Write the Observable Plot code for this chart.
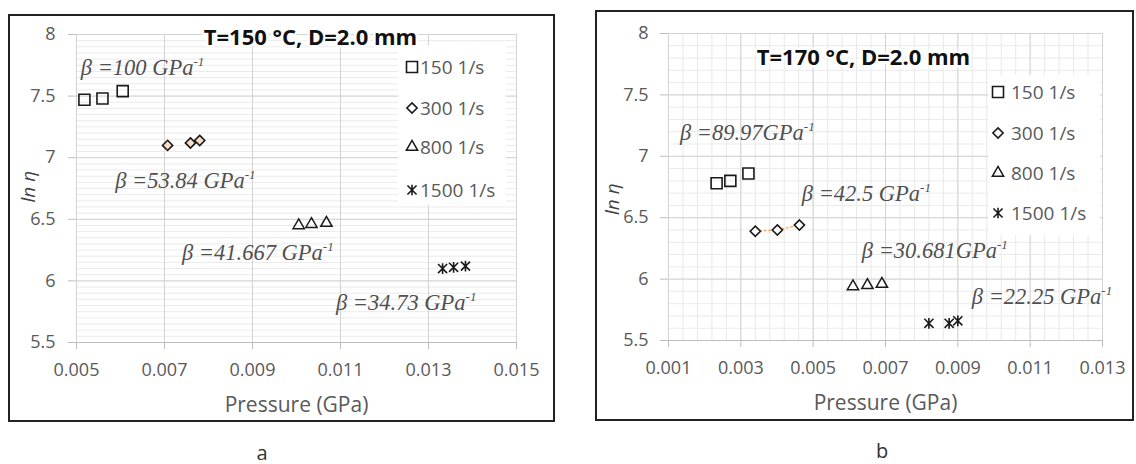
<!DOCTYPE html>
<html>
<head>
<meta charset="utf-8">
<script src="https://cdn.jsdelivr.net/npm/d3@7"></script>
<script src="https://cdn.jsdelivr.net/npm/@observablehq/plot@0.6"></script>
<style>
  html, body { margin: 0; padding: 0; background: #fff; width: 1136px; height: 464px; overflow: hidden; }
  .panel { position: absolute; }
  .panel svg { display: block; background: transparent; }
  .frame { position: absolute; border: 2px solid #222; box-sizing: border-box; pointer-events: none; }
  .cap { position: absolute; font-family: "Open Sans"; font-size: 20px; color: #333; transform: translate(-50%, -50%); }
</style>
</head>
<body>
<div id="root"></div>
<script>
// Shear-rate series shown in both panels
const series = ["150 1/s", "300 1/s", "800 1/s", "1500 1/s"];

// Panel a: T = 150 °C, D = 2.0 mm  (pressure in GPa, ln η)
const pA150 = [0.00518, 0.00559, 0.00605];
const lnA150 = [7.47, 7.48, 7.54];
const pA300 = [0.00707, 0.00759, 0.00780];
const lnA300 = [7.10, 7.12, 7.14];
const pA800 = [0.01005, 0.01034, 0.01068];
const lnA800 = [6.45, 6.46, 6.47];
const pA1500 = [0.01332, 0.01357, 0.01384];
const lnA1500 = [6.10, 6.11, 6.12];

// Panel b: T = 170 °C, D = 2.0 mm
const pB150 = [0.00233, 0.00271, 0.00321];
const lnB150 = [6.78, 6.80, 6.86];
const pB300 = [0.00340, 0.00401, 0.00462];
const lnB300 = [6.39, 6.40, 6.44];
const pB800 = [0.00610, 0.00650, 0.00690];
const lnB800 = [5.94, 5.95, 5.96];
const pB1500 = [0.00820, 0.00876, 0.00900];
const lnB1500 = [5.64, 5.64, 5.66];

// Pressure-coefficient labels and the point where each label starts
const betaTextA = ["β =100 GPa", "β =53.84 GPa", "β =41.667 GPa", "β =34.73 GPa"];
const betaPosXA = [0.00511, 0.00589, 0.00741, 0.01091];
const betaPosYA = [7.73, 6.81, 6.23, 5.82];
const betaTextB = ["β =89.97GPa", "β =42.5 GPa", "β =30.681GPa", "β =22.25 GPa"];
const betaPosXB = [0.00133, 0.00470, 0.00636, 0.00940];
const betaPosYB = [7.19, 6.70, 6.23, 5.86];

// Axis ticks
const xTicksA = [0.005, 0.007, 0.009, 0.011, 0.013, 0.015];
const xTicksB = [0.001, 0.003, 0.005, 0.007, 0.009, 0.011, 0.013];
const yTicks = [5.5, 6, 6.5, 7, 7.5, 8];
const yTickLabels = ["5.5", "6", "6.5", "7", "7.5", "8"];

const titleA = "T=150 °C, D=2.0 mm";
const titleB = "T=170 °C, D=2.0 mm";

// Star marker: a vertical stroke crossed by an X
const starSymbol = {
  draw(context, size) {
    const r = Math.sqrt(size) * 0.56;
    const d = r * 0.85;
    context.moveTo(0, -r); context.lineTo(0, r);
    context.moveTo(-d, -d); context.lineTo(d, d);
    context.moveTo(-d, d); context.lineTo(d, -d);
  }
};

// Marker shapes
const plotSymbol = {"150 1/s": "square2", "300 1/s": "diamond2", "800 1/s": "triangle2", "1500 1/s": starSymbol};
const d3Symbol = {"150 1/s": d3.symbolSquare2, "300 1/s": d3.symbolDiamond2, "800 1/s": d3.symbolTriangle2, "1500 1/s": starSymbol};
const symbolR = {"150 1/s": 7, "300 1/s": 4.6, "800 1/s": 5.4, "1500 1/s": 5.4};
const symbolW = {"150 1/s": 1.6, "300 1/s": 1.6, "800 1/s": 1.5, "1500 1/s": 1.6};

const rows = (xs, ys, s) => xs.map((x, i) => ({p: x, ln: ys[i], series: s}));

const dataA = [
  ...rows(pA150, lnA150, series[0]), ...rows(pA300, lnA300, series[1]),
  ...rows(pA800, lnA800, series[2]), ...rows(pA1500, lnA1500, series[3])
];
const dataB = [
  ...rows(pB150, lnB150, series[0]), ...rows(pB300, lnB300, series[1]),
  ...rows(pB800, lnB800, series[2]), ...rows(pB1500, lnB1500, series[3])
];

const sans = "Open Sans";
const tickGray = "#595959";

// Legend in a white box, anchored to the top-right corner of the plot frame
function legendMark(box) {
  return (index, scales, values, dim) => {
    const right = dim.width - dim.marginRight, top = dim.marginTop;
    const g = d3.create("svg:g").attr("text-anchor", "start");
    g.append("rect")
      .attr("x", right + box.x0).attr("y", top + box.y0)
      .attr("width", box.x1 - box.x0).attr("height", box.y1 - box.y0)
      .attr("fill", "#fff");
    series.forEach((s, i) => {
      const y = top + box.rows[i];
      g.append("path")
        .attr("transform", `translate(${right + box.mx},${y})`)
        .attr("d", d3.symbol(d3Symbol[s], Math.PI * symbolR[s] ** 2)())
        .attr("fill", "none").attr("stroke", "#1a1a1a").attr("stroke-width", symbolW[s]);
      g.append("text")
        .attr("x", right + box.tx).attr("y", y).attr("dy", "0.36em")
        .attr("font-family", sans).attr("font-size", 19).attr("fill", tickGray)
        .text(s);
    });
    return g.node();
  };
}

// β annotations with a superscript "-1"
function betaMark(texts, xs, ys) {
  return (index, scales) => {
    const g = d3.create("svg:g").attr("text-anchor", "start")
      .attr("font-family", "Liberation Serif").attr("font-style", "italic")
      .attr("font-size", 22.5).attr("fill", "#505050");
    texts.forEach((t, i) => {
      const el = g.append("text").attr("x", scales.x(xs[i])).attr("y", scales.y(ys[i])).attr("dy", "0.35em");
      el.append("tspan").text(t);
      el.append("tspan").attr("font-size", 13).attr("dy", -9).text("-1");
    });
    return g.node();
  };
}

function panel(cfg) {
  const marks = [];
  if (cfg.xMinor) marks.push(Plot.gridX(cfg.xMinor, {stroke: "#e8e8e8", strokeOpacity: 1}));
  marks.push(Plot.gridY(cfg.yMinor, {stroke: "#ebebeb", strokeOpacity: 1}));
  marks.push(Plot.gridX(cfg.xTicks, {stroke: "#d3d3d3", strokeOpacity: 1}));
  marks.push(Plot.gridY(yTicks, {stroke: "#d3d3d3", strokeOpacity: 1}));
  marks.push(Plot.ruleY([yTicks[0]], {stroke: "#bdbdbd"}));
  marks.push(Plot.axisX(cfg.xTicks, {
    tickSize: 7, tickPadding: 14, stroke: "#bdbdbd", color: tickGray,
    tickFormat: d3.format(".3f"), fontSize: 18, fontFamily: sans, label: null
  }));
  marks.push(Plot.axisY(yTicks, {
    tickSize: 8, tickPadding: cfg.yPad, stroke: "#bdbdbd", color: tickGray,
    tickFormat: (d) => yTickLabels[yTicks.indexOf(d)], fontSize: 18, fontFamily: sans, label: null
  }));
  marks.push(legendMark(cfg.legend));
  marks.push(Plot.text([cfg.title], {
    frameAnchor: "top", dx: cfg.titleDx, dy: cfg.titleDy, lineAnchor: "middle",
    fontFamily: sans, fontWeight: "bold", fontSize: 22, fill: "#111",
    stroke: "#fff", strokeWidth: 5
  }));
  marks.push(Plot.text(["Pressure (GPa)"], {
    frameAnchor: "bottom", dy: cfg.xLabelDy, lineAnchor: "middle",
    fontFamily: sans, fontSize: 21, fill: tickGray
  }));
  marks.push(Plot.text(["ln η"], {
    frameAnchor: "left", dx: cfg.yLabelDx, dy: cfg.yLabelDy, rotate: -90,
    fontFamily: sans, fontStyle: "italic", fontSize: 19, fill: "#404040"
  }));
  marks.push(betaMark(cfg.betaText, cfg.betaX, cfg.betaY));
  if (cfg.trend) {
    marks.push(Plot.line(cfg.data.filter((d) => d.series === series[1]), {
      x: "p", y: "ln", stroke: "#f0a868", strokeWidth: 1.5, strokeDasharray: "1.5,3"
    }));
  }
  for (const s of series) {
    marks.push(Plot.dot(cfg.data.filter((d) => d.series === s), {
      x: "p", y: "ln", symbol: () => plotSymbol[s], r: symbolR[s],
      fill: s === series[1] ? cfg.diamondFill : "none",
      stroke: "#1a1a1a", strokeWidth: symbolW[s]
    }));
  }
  return Plot.plot({
    width: cfg.width, height: cfg.height,
    marginLeft: cfg.ml, marginRight: cfg.mr, marginTop: cfg.mt, marginBottom: cfg.mb,
    x: {domain: cfg.xDomain},
    y: {domain: [5.5, 8]},
    symbol: {type: "identity"},
    style: {background: "transparent", overflow: "visible"},
    marks
  });
}

function place(svg, left, top, w, h) {
  const root = document.getElementById("root");
  const wrap = document.createElement("div");
  wrap.className = "panel";
  wrap.style.left = left + "px"; wrap.style.top = top + "px";
  wrap.appendChild(svg);
  root.appendChild(wrap);
  const frame = document.createElement("div");
  frame.className = "frame";
  Object.assign(frame.style, {left: left + "px", top: top + "px", width: w + "px", height: h + "px"});
  root.appendChild(frame);
}

function caption(text, x, y) {
  const c = document.createElement("div");
  c.className = "cap";
  c.style.left = x + "px"; c.style.top = y + "px";
  c.textContent = text;
  document.getElementById("root").appendChild(c);
}

const svgA = panel({
  data: dataA, xDomain: [0.005, 0.015], xTicks: xTicksA,
  yMinor: d3.range(0, 51).map((i) => 5.5 + i * 0.05),
  width: 547, height: 408, ml: 68, mr: 39, mt: 20, mb: 80, yPad: 13,
  title: titleA, titleDx: 14, titleDy: 3,
  xLabelDy: 63, yLabelDx: -48, yLabelDy: 14,
  legend: {x0: -118, x1: -10, y0: 11, y1: 171, rows: [33, 74, 113, 156], mx: -104, tx: -96},
  betaText: betaTextA, betaX: betaPosXA, betaY: betaPosYA,
  diamondFill: "#f7dcc6", trend: false
});
place(svgA, 8, 14, 547, 408);

const svgB = panel({
  data: dataB, xDomain: [0.001, 0.013], xTicks: xTicksB,
  xMinor: d3.range(0, 31).map((i) => 0.001 + i * 0.0004),
  yMinor: d3.range(0, 26).map((i) => 5.5 + i * 0.1),
  width: 539, height: 411, ml: 73, mr: 32, mt: 23, mb: 81, yPad: 12,
  title: titleB, titleDx: -22, titleDy: 24,
  xLabelDy: 63, yLabelDx: -56, yLabelDy: 28,
  legend: {x0: -114, x1: -2, y0: 42, y1: 202, rows: [59, 100, 140, 180], mx: -104, tx: -91},
  betaText: betaTextB, betaX: betaPosXB, betaY: betaPosYB,
  diamondFill: "#fff", trend: true
});
place(svgB, 595, 10, 539, 411);

caption("a", 262, 452);
caption("b", 882, 450);
</script>
</body>
</html>
